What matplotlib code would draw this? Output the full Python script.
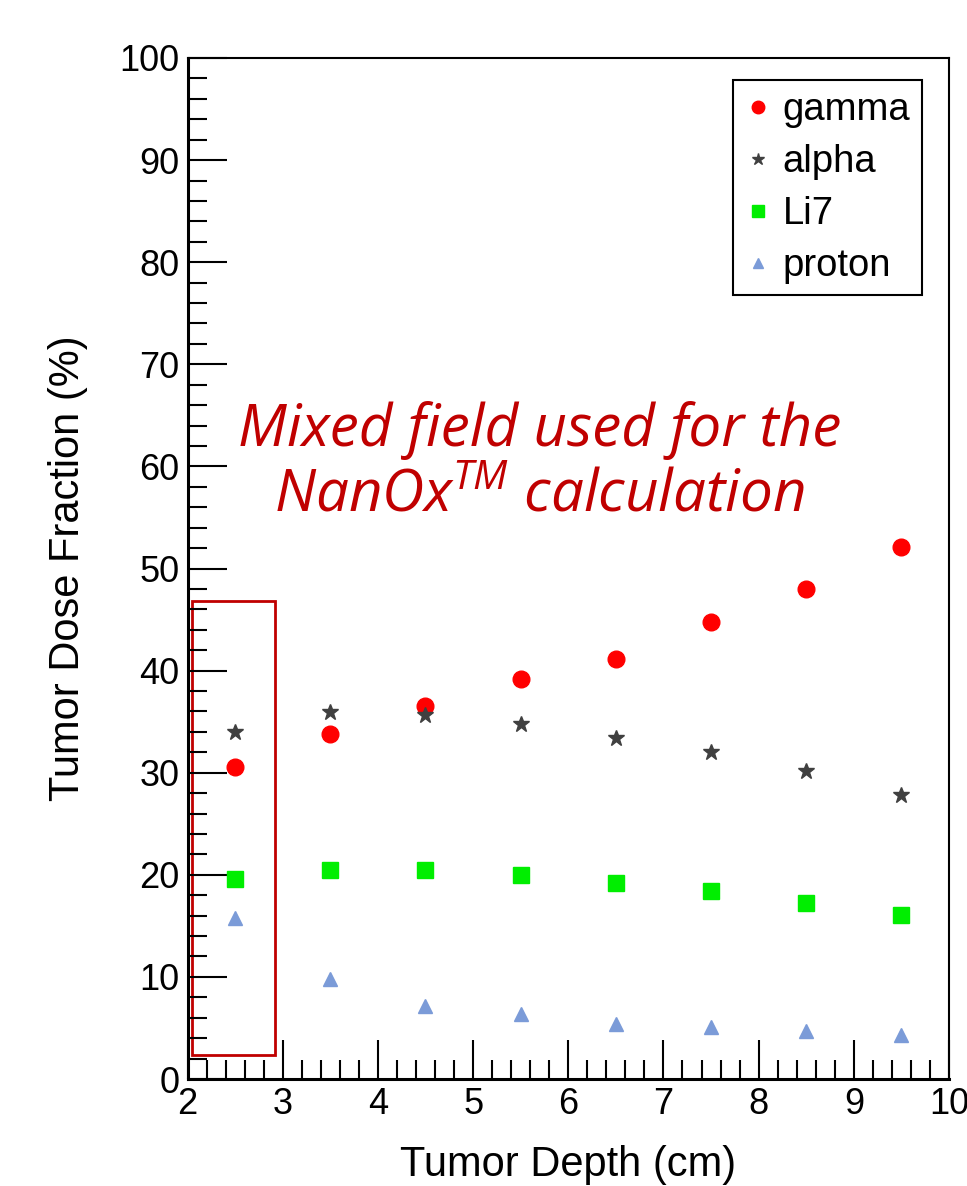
import matplotlib.pyplot as plt
from matplotlib.patches import Rectangle
from matplotlib.ticker import MultipleLocator

plt.rcParams['font.family'] = ['Liberation Sans', 'DejaVu Sans']
plt.rcParams['mathtext.fontset'] = 'custom'
plt.rcParams['mathtext.it'] = 'Open Sans:italic'
plt.rcParams['mathtext.rm'] = 'Open Sans:italic'

depth = [2.5, 3.5, 4.5, 5.5, 6.5, 7.5, 8.5, 9.5]
gamma = [30.6, 33.8, 36.5, 39.2, 41.1, 44.8, 48.0, 52.1]
alpha = [34.0, 35.9, 35.7, 34.8, 33.4, 32.0, 30.2, 27.8]
li7 = [19.6, 20.5, 20.5, 20.0, 19.2, 18.4, 17.2, 16.1]
proton = [15.8, 9.8, 7.2, 6.4, 5.4, 5.1, 4.7, 4.3]

fig = plt.figure(figsize=(9.67, 11.86), dpi=100)
ax = fig.add_axes([0.1939, 0.0902, 0.7875, 0.8609])

ax.plot(depth, gamma, 'o', color='#ff0000', markersize=12, label='gamma')
ax.plot(depth, alpha, '*', color='#404040', markersize=12, label='alpha')
ax.plot(depth, li7, 's', color='#00ee00', markersize=11.5, label='Li7')
ax.plot(depth, proton, '^', color='#7b9bd8', markersize=10.5, label='proton')

ax.set_xlim(2, 10)
ax.set_ylim(0, 100)
ax.xaxis.set_major_locator(MultipleLocator(1))
ax.xaxis.set_minor_locator(MultipleLocator(0.2))
ax.yaxis.set_major_locator(MultipleLocator(10))
ax.yaxis.set_minor_locator(MultipleLocator(2))
ax.tick_params(which='both', direction='in', top=False, right=False, labelsize=26, width=1.5)
ax.tick_params(which='major', length=28, pad=6)
ax.tick_params(which='minor', length=14)
ax.spines['left'].set_linewidth(2.2)
ax.spines['bottom'].set_linewidth(2.2)
ax.spines['top'].set_linewidth(1.5)
ax.spines['right'].set_linewidth(1.5)

ax.set_xlabel('Tumor Depth (cm)', fontsize=30, labelpad=16)
ax.set_ylabel('Tumor Dose Fraction (%)', fontsize=30, labelpad=22)

leg = ax.legend(loc='upper left', bbox_to_anchor=(0.7163, 0.978), borderaxespad=0,
                fontsize=27.5, fancybox=False, edgecolor='black', framealpha=1,
                handletextpad=0.3, handlelength=0.7, labelspacing=0.42,
                borderpad=0.3, markerscale=0.75)
leg.get_frame().set_linewidth(1.5)

ax.add_patch(Rectangle((2.05, 2.35), 0.87, 44.45, fill=False, edgecolor='#c00000', linewidth=2))

ax.text(5.7, 60.3, 'Mixed field used for the\nNanOx$^{TM}$ calculation', ha='center', va='center',
        fontsize=42, color='#c00000', family='Open Sans', style='italic', linespacing=1.15)

fig.savefig('out.png', dpi=100)
